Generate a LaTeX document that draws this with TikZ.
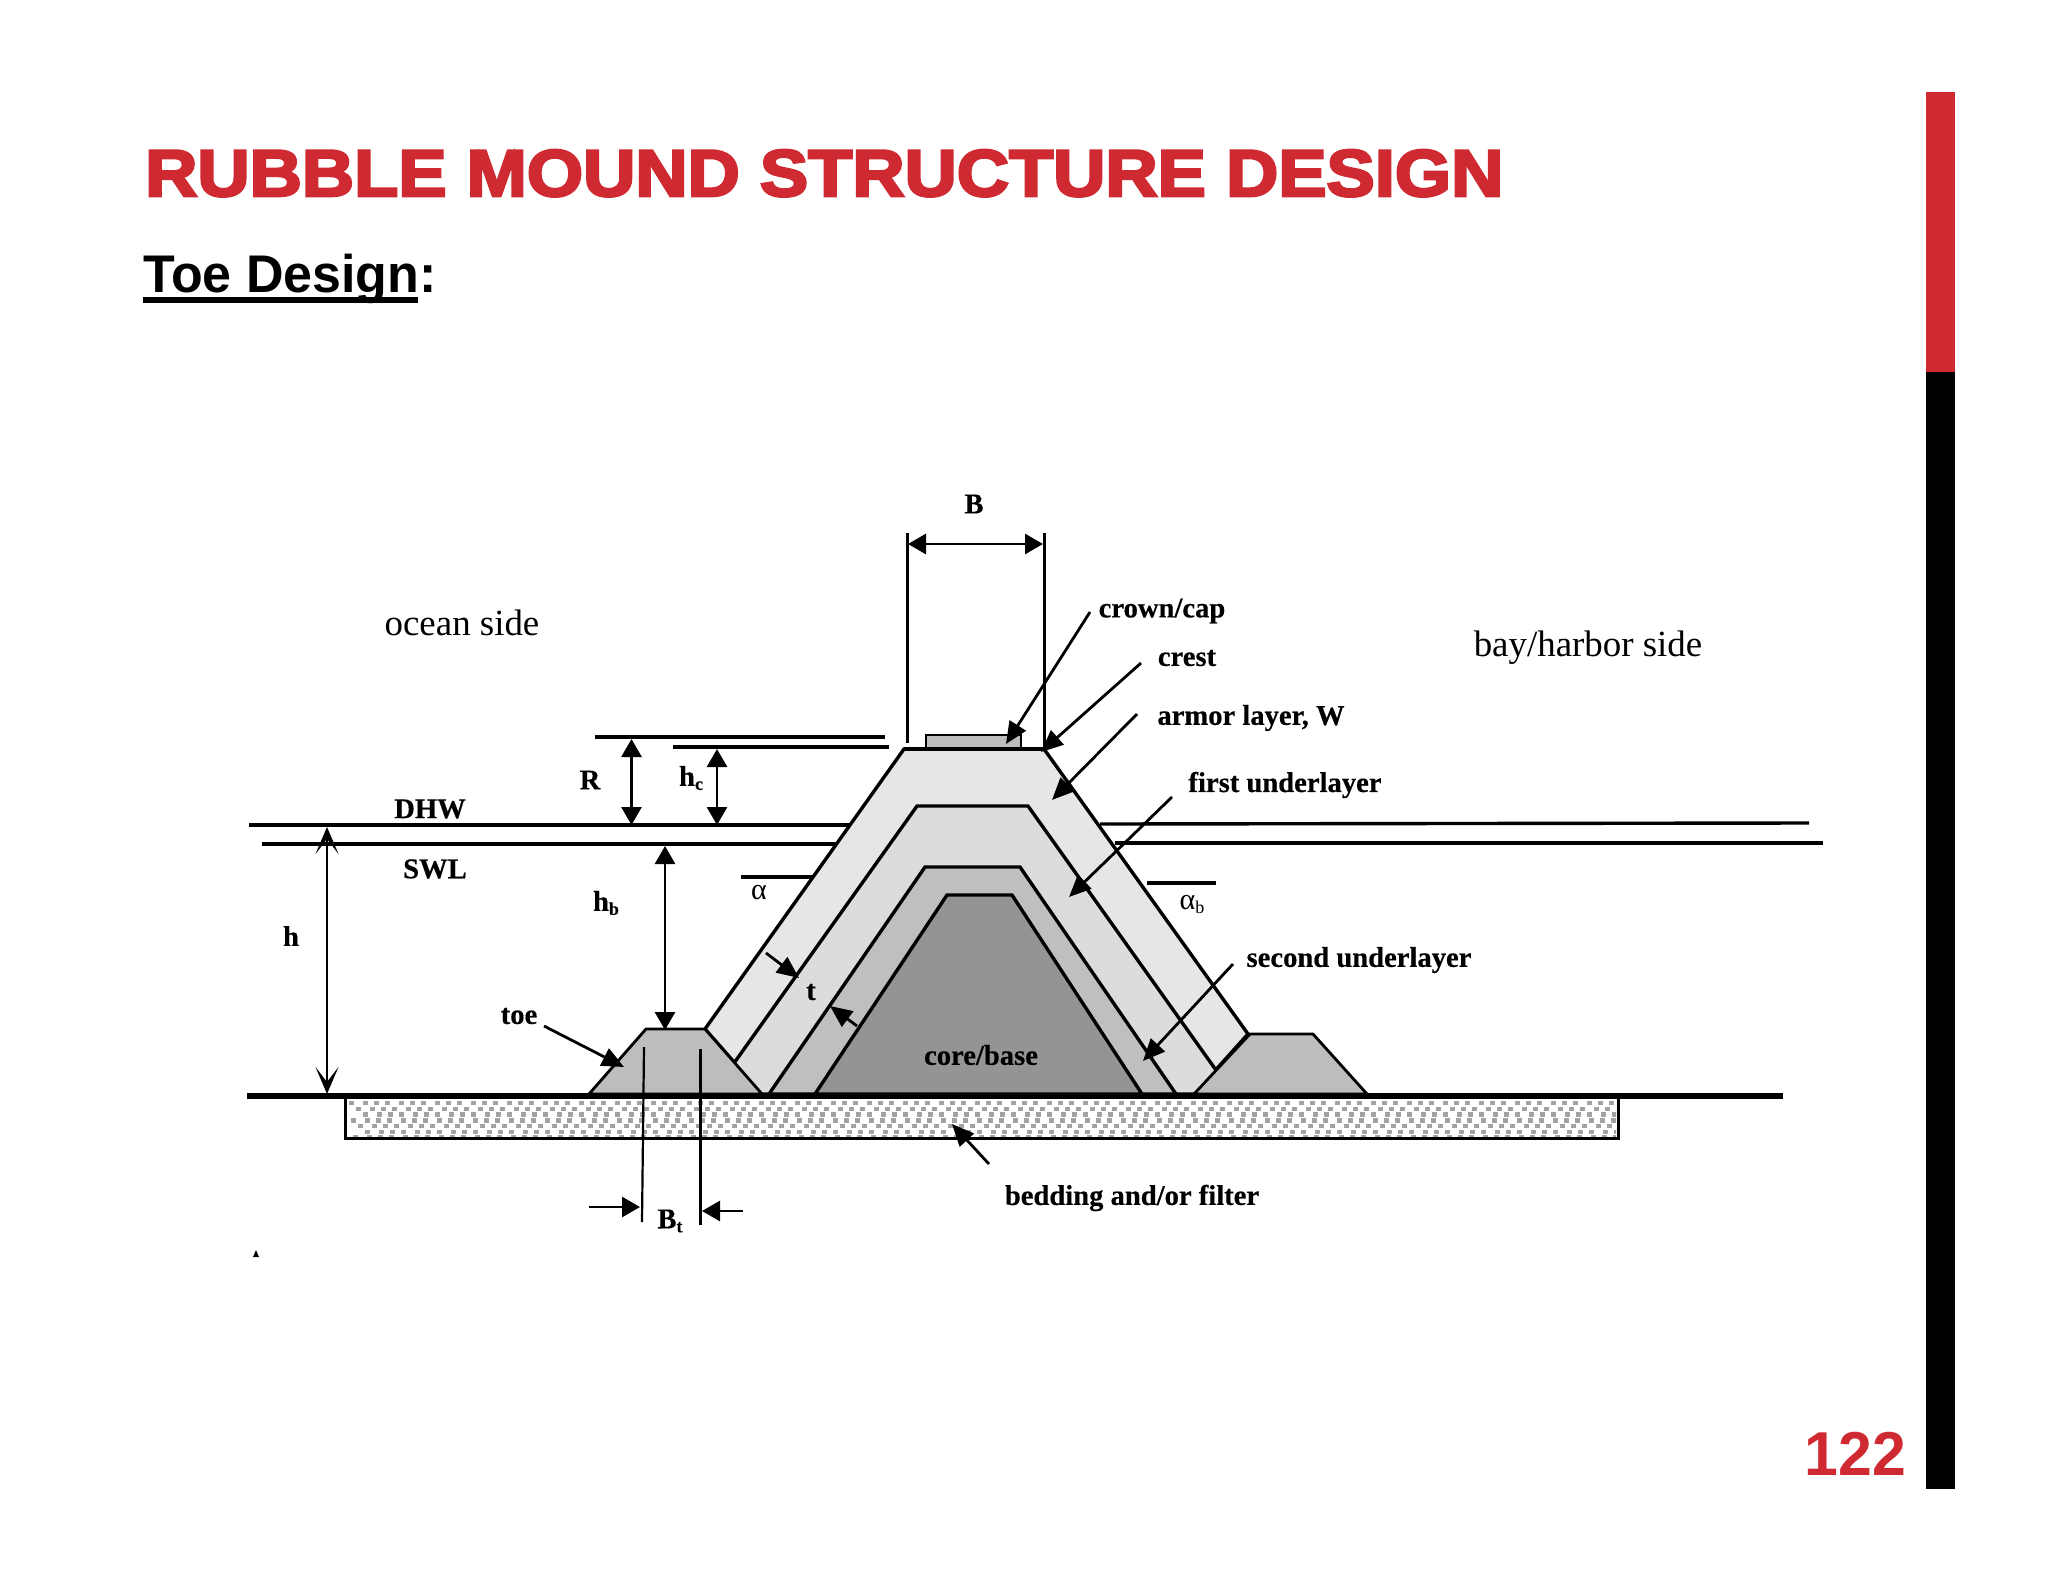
\documentclass[tikz,border=0pt]{standalone}
\usepackage{fontspec}
\usetikzlibrary{arrows.meta}
\setmainfont[BoldFeatures={FakeBold=0.4}]{Liberation Serif}
\newfontfamily\sansf[BoldFeatures={FakeBold=4,FakeStretch=1.096}]{Liberation Sans}
\newfontfamily\sansg[BoldFeatures={FakeStretch=0.98}]{Liberation Sans}
\definecolor{slidered}{HTML}{CF2A32}
\definecolor{armor}{HTML}{E6E5E8}
\definecolor{firstu}{HTML}{DCDBDE}
\definecolor{secondu}{HTML}{BFBEC1}
\definecolor{corec}{HTML}{949396}
\definecolor{toec}{HTML}{BDBCBF}
\definecolor{dotc}{HTML}{A2A2A2}
\newcommand{\lsub}[1]{\raisebox{-4pt}{\fontsize{18}{19}\selectfont #1}}
\tikzset{
  lab/.style={font=\fontsize{28.6}{31}\selectfont\bfseries,inner sep=0pt},
  big/.style={font=\fontsize{36.9}{40}\selectfont,inner sep=0pt},
  greek/.style={font=\fontsize{30}{32}\selectfont,inner sep=0pt},
  layer/.style={draw=black,line width=3.4pt,line join=miter},
  leader/.style={line width=2.8pt,-{Triangle[length=22pt,width=19pt]}},
  dimarrow/.style={line width=2.8pt,{Triangle[length=18pt,width=20pt]}-{Triangle[length=18pt,width=20pt]}},
  sarrow/.style={line width=2.8pt,-{Triangle[length=18pt,width=20pt]}},
  barb/.style={line width=2.8pt,{Stealth[length=27pt,width=23pt,inset=15pt]}-{Stealth[length=27pt,width=23pt,inset=15pt]}},
  thinl/.style={line width=2.2pt},
  level/.style={line width=3.4pt},
  heavy/.style={line width=4.4pt}
}
\begin{document}
\begin{tikzpicture}[x=1pt,y=-1pt]
\useasboundingbox (0,0) rectangle (2048,1582);
% side bar
\fill[slidered] (1926,92) rectangle (1955,372);
\fill[black] (1926,372) rectangle (1955,1489);
% headings
\node[anchor=base west,inner sep=0pt,text=slidered,font=\fontsize{66}{70}\sansf\bfseries] (title) at (145,196) {RUBBLE MOUND STRUCTURE DESIGN};
\node[anchor=base west,inner sep=0pt,font=\fontsize{53}{56}\sansg\bfseries] (sub) at (143,292) {Toe Design:};
\fill[black] (143,297) rectangle (418,303);
\node[anchor=base east,inner sep=0pt,text=slidered,font=\fontsize{62}{66}\sansg\bfseries] (page) at (1906,1475) {122};
% bedding
\fill[white] (345,1096) rectangle (1618,1138);
\begin{scope}
\clip (347,1099) rectangle (1616,1136);
\foreach \r in {0,...,6}{
  \pgfmathsetmacro{\yy}{1101+5.7*\r}
  \pgfmathsetmacro{\xo}{349+mod(\r*7,19)}
  \foreach \c in {0,...,106}{
    \pgfmathsetmacro{\xx}{\xo+12*\c+mod(\c*5,3)}
    \fill[dotc] (\xx,\yy) rectangle ++(5.2,4.4);
  }
}
\end{scope}
\draw[line width=3pt] (345,1096) -- (345,1138) -- (1618,1138) -- (1618,1096);
% mound layers
\path[layer,fill=armor] (705,1029) -- (904,749) -- (1044,749) -- (1248,1034) -- (1194,1094) -- (762,1094) -- cycle;
\path[layer,fill=firstu] (712,1094) -- (917,806) -- (1028,806) -- (1233,1094) -- cycle;
\path[layer,fill=secondu] (769,1094) -- (925,867) -- (1020,867) -- (1176,1094) -- cycle;
\path[layer,fill=corec] (815,1094) -- (947,895) -- (1012,895) -- (1142,1094) -- cycle;
% toes
\path[draw=black,line width=2.8pt,fill=toec] (589,1094) -- (646,1029) -- (705,1029) -- (762,1094) -- cycle;
\path[draw=black,line width=2.8pt,fill=toec] (1194,1094) -- (1250,1034) -- (1313,1034) -- (1367,1094) -- cycle;
% crown
\path[draw=black,line width=2.4pt,fill=toec] (926,748) -- (926,735) -- (1021,735) -- (1021,748);
\draw[line width=4.4pt] (904,749) -- (1044,749);
% ground
\draw[line width=6.4pt] (247,1096) -- (1783,1096);
% water levels
\draw[level] (249,825) -- (850,825);
\draw[level] (262,844) -- (837,844);
\draw[level] (1100,824) -- (1809,823);
\draw[level] (1115,843) -- (1823,843);
% reference lines
\coordinate (rl) at (595,737); \coordinate (rr) at (885,737);
\coordinate (cl) at (673,747); \coordinate (cr) at (889,747);
\draw[heavy] (rl) -- (rr);
\draw[heavy] (cl) -- (cr);
\coordinate (bl1) at (907,533); \coordinate (bl2) at (907,743);
\coordinate (br1) at (1044,533); \coordinate (br2) at (1044,748);
\draw[line width=3pt] (bl1) -- (bl2);
\draw[line width=3pt] (br1) -- (br2);
% dimension arrows
\coordinate (ba) at (908,544); \coordinate (bb) at (1043,544);
\draw[dimarrow] (ba) -- (bb);
\coordinate (ra) at (631.5,739); \coordinate (rb) at (631.5,825);
\draw[dimarrow] (ra) -- (rb);
\coordinate (ca) at (717,749); \coordinate (cb) at (717,825);
\draw[dimarrow] (ca) -- (cb);
\coordinate (ha) at (327,827); \coordinate (hb) at (327,1094);
\draw[barb] (ha) -- (hb);
\coordinate (ta) at (665,846); \coordinate (tb) at (665,1030);
\draw[dimarrow] (ta) -- (tb);
% toe width
\coordinate (w1) at (644,1047); \coordinate (w2) at (642,1222);
\coordinate (w3) at (700.5,1049); \coordinate (w4) at (700.5,1225);
\draw[thinl] (w1) -- (w2);
\draw[thinl] (w3) -- (w4);
\coordinate (wa) at (589,1207); \coordinate (wb) at (640,1207);
\coordinate (wc) at (743,1211); \coordinate (wd) at (702,1211);
\draw[sarrow] (wa) -- (wb);
\draw[sarrow] (wc) -- (wd);
% slope bars
\coordinate (al) at (741,877); \coordinate (ar) at (812,877);
\draw[heavy] (al) -- (ar);
\coordinate (bbl) at (1147,883); \coordinate (bbr) at (1216,883);
\draw[heavy] (bbl) -- (bbr);
% labels
\node[lab] (nB) at (974,504) {B};
\node[lab] (nR) at (590,780) {R};
\node[lab] (nhc) at (691,778) {h\lsub{c}};
\node[lab] (nDHW) at (430,809) {DHW};
\node[lab] (nSWL) at (435,869) {SWL};
\node[lab] (nh) at (291,936) {h};
\node[lab] (nhb) at (606,903) {h\lsub{b}};
\node[lab] (ntoe) at (519,1016) {toe};
\node[lab] (nBt) at (670,1221) {B\lsub{t}};
\node[lab] (nt) at (811,992) {t};
\node[greek] (na) at (759,893) {α};
\node[greek] (nab) at (1192,905) {α\lsub{b}};
\node[lab] (ncore) at (981,1055) {core/base};
\node[lab] (ncrown) at (1162,611) {crown/cap};
\node[lab] (ncrest) at (1187,658) {crest};
\node[lab] (narmor) at (1251,718) {armor layer, W};
\node[lab] (nfirst) at (1285,785) {first underlayer};
\node[lab] (nsecond) at (1359,960) {second underlayer};
\node[lab] (nbed) at (1132,1198) {bedding and/or filter};
\node[big] (nocean) at (462,623) {ocean side};
\node[big] (nbay) at (1588,648) {bay/harbor side};
% leaders
\coordinate (l1s) at (1090,612); \coordinate (l1e) at (1006,744);
\draw[leader] (l1s) -- (l1e);
\coordinate (l2s) at (1141,663); \coordinate (l2e) at (1041,752);
\draw[leader] (l2s) -- (l2e);
\coordinate (l3s) at (1137,714); \coordinate (l3e) at (1052,800);
\draw[leader] (l3s) -- (l3e);
\coordinate (l4s) at (1172,797); \coordinate (l4e) at (1069,897);
\draw[leader] (l4s) -- (l4e);
\coordinate (l5s) at (1233,964); \coordinate (l5e) at (1143,1061);
\draw[leader] (l5s) -- (l5e);
\coordinate (l6s) at (989,1164); \coordinate (l6e) at (952,1124);
\draw[leader] (l6s) -- (l6e);
\coordinate (l7s) at (544,1026); \coordinate (l7e) at (624,1067);
\draw[leader] (l7s) -- (l7e);
\coordinate (l8s) at (766,953); \coordinate (l8e) at (799,978);
\draw[leader] (l8s) -- (l8e);
\coordinate (l9s) at (857,1026); \coordinate (l9e) at (830,1006);
\draw[leader] (l9s) -- (l9e);
\coordinate (m1) at (256,1250); \coordinate (m2) at (253,1257); \coordinate (m3) at (259,1257);
\fill (m1) -- (m2) -- (m3) -- cycle;
\end{tikzpicture}
\end{document}
